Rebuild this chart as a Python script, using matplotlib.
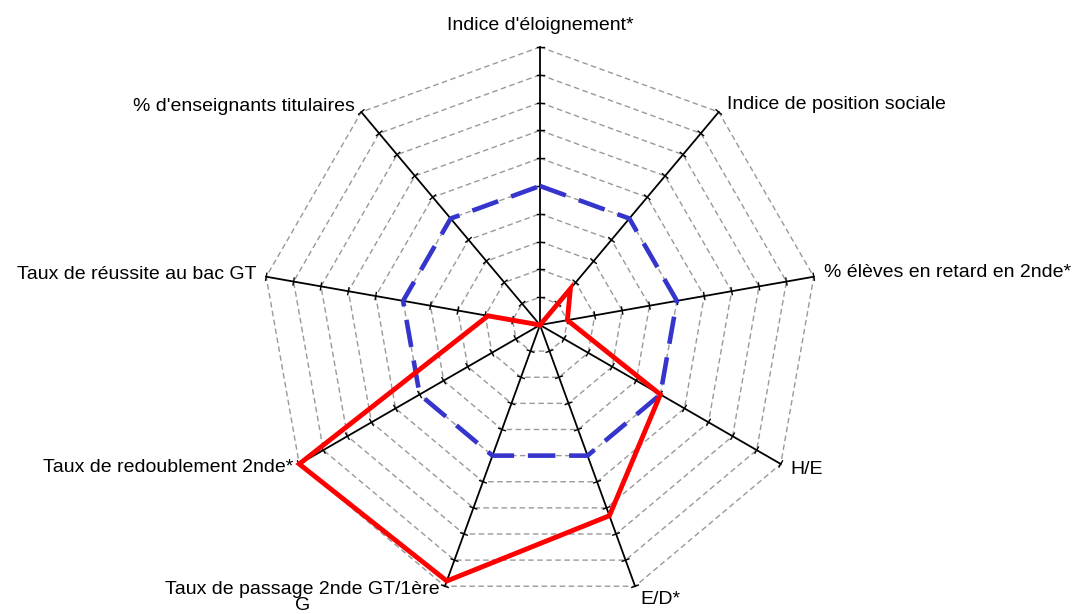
import numpy as np
import matplotlib
matplotlib.use('Agg')
import matplotlib.pyplot as plt
plt.rcParams['font.family'] = ['Liberation Sans', 'DejaVu Sans']

# axes, clockwise from the top
labels = ["Indice d'éloignement*", "Indice de position sociale",
          "% élèves en retard en 2nde*", "H/E", "E/D*",
          "Taux de passage 2nde GT/1ère\nG", "Taux de redoublement 2nde*",
          "Taux de réussite au bac GT", "% d'enseignants titulaires"]
reference = [0.5, 0.5, 0.5, 0.5, 0.5, 0.5, 0.5, 0.5, 0.5]
etab = [0.0, 0.17, 0.10, 0.5, 0.73, 0.98, 1.0, 0.19, 0.0]
n_rings = 10

W, H = 1076, 614
cx, cy, R = 540, 325, 278

fig = plt.figure(figsize=(W / 100, H / 100), dpi=100)
ax = fig.add_axes([0, 0, 1, 1])
ax.set_xlim(-cx / R, (W - cx) / R)
ax.set_ylim(-(H - cy) / R, cy / R)
ax.axis('off')

n = len(labels)
ang = np.deg2rad(90 - 360 / n * np.arange(n))
ux, uy = np.cos(ang), np.sin(ang)

# rings
for k in range(1, n_rings + 1):
    r = k / n_rings
    ax.plot(np.append(r * ux, r * ux[0]), np.append(r * uy, r * uy[0]),
            color='#999999', lw=1, ls=(0, (4, 2.5)), zorder=1)

# spokes with ticks
tl = 3.5 / R
for i in range(n):
    ax.plot([0, ux[i]], [0, uy[i]], color='black', lw=1.3, zorder=2)
    for k in range(1, n_rings + 1):
        r = k / n_rings
        px, py = -uy[i], ux[i]
        ax.plot([r * ux[i] - tl * px, r * ux[i] + tl * px],
                [r * uy[i] - tl * py, r * uy[i] + tl * py],
                color='black', lw=1, zorder=2)

# series
rv = np.array(reference)
ax.plot(np.append(rv * ux, rv[0] * ux[0]), np.append(rv * uy, rv[0] * uy[0]),
        color='#3535cc', lw=3.3, ls=(0, (6, 3)), zorder=3)
ev = np.array(etab)
ax.plot(np.append(ev * ux, ev[0] * ux[0]), np.append(ev * uy, ev[0] * uy[0]),
        color='#ff0000', lw=3.5, zorder=4, solid_joinstyle='miter')

# labels
fs = 14
ax.text(0, 1.0 + 22 / R, labels[0], ha='center', va='center', fontsize=fs)
ax.text(ux[1] + 8 / R, uy[1] + 8 / R, labels[1], ha='left', va='center', fontsize=fs)
ax.text(ux[2] + 10 / R, uy[2] + 4 / R, labels[2], ha='left', va='center', fontsize=fs)
ax.text(ux[3] + 10 / R, uy[3] - 6 / R, labels[3], ha='left', va='center', fontsize=fs)
ax.text(ux[4] + 5 / R, uy[4] - 13 / R, labels[4], ha='left', va='center', fontsize=fs)
ax.text(ux[5] - 5 / R, uy[5] - 11 / R, labels[5], ha='right', va='center',
        fontsize=fs, multialignment='center', linespacing=0.95)
ax.text(ux[6] - 6 / R, uy[6] - 4 / R, labels[6], ha='right', va='center', fontsize=fs)
ax.text(ux[7] - 10 / R, uy[7] + 2 / R, labels[7], ha='right', va='center', fontsize=fs)
ax.text(ux[8] - 6 / R, uy[8] + 6 / R, labels[8], ha='right', va='center', fontsize=fs)

fig.savefig('out.png', dpi=100)
